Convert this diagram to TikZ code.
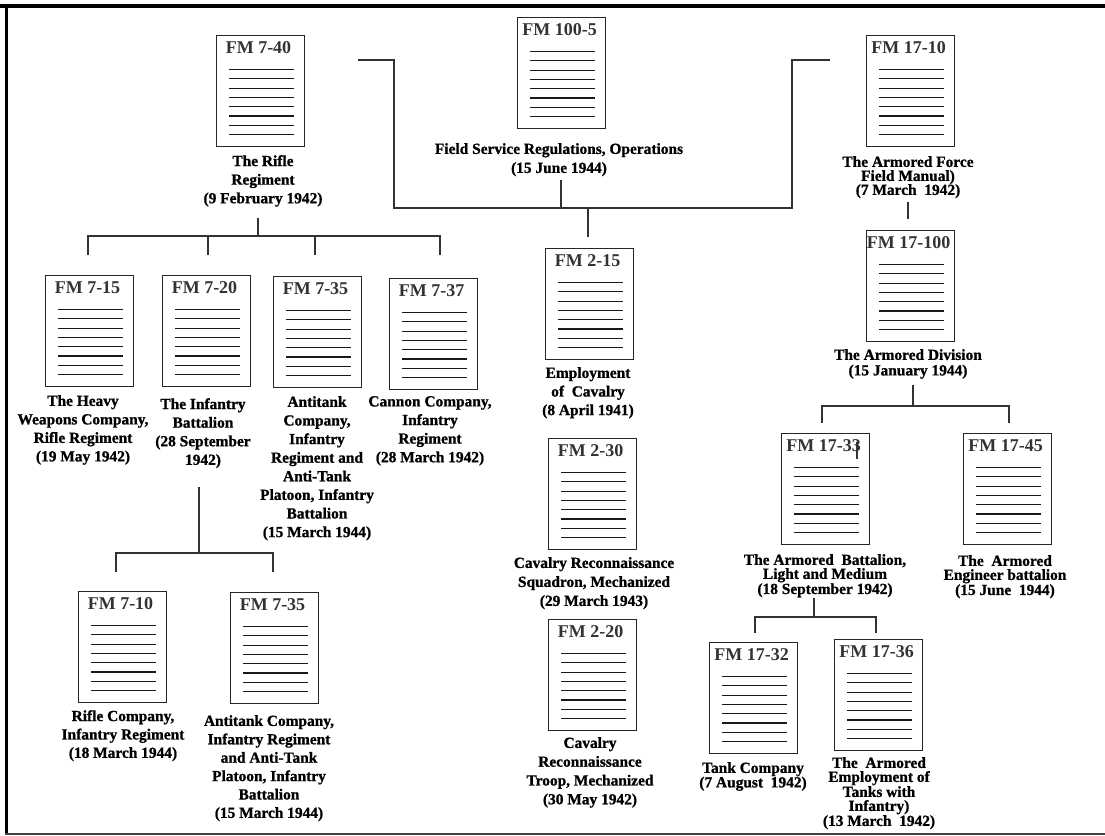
\documentclass[tikz,border=0pt]{standalone}
\usepackage{fontspec}
\setmainfont{Liberation Serif}
\newfontface\lblface{Liberation Serif Bold}[FakeBold=1.0]
\newcommand{\fmdoc}[4]{% name, left, top, title
  \node[docbox] (#1) at (#2+44.5,#3+56) {};
  \node[doctitle] (#1t) at (#2+42.5,#3+12.5) {#4};
  \foreach \k in {0,...,7} {\draw[textline] (#2+13,#3+34.5+\k*9.3) -- (#2+78,#3+34.5+\k*9.3);}
}
\newcommand{\fmlab}[5]{% name, centre x, first line y, baseline, text
  \node[doclabel,font=\lblface\fontsize{15.4}{#4}\selectfont] (#1) at (#2,#3-6) {#5};
}
\tikzset{
  x=1pt,y=-1pt,
  docbox/.style={draw=black!85,line width=1.4pt,fill=white,minimum width=88pt,minimum height=111pt,inner sep=0pt,outer sep=0pt},
  doctitle/.style={inner sep=0pt,font=\bfseries\fontsize{18}{20}\selectfont,text=black!80},
  textline/.style={draw=black!90,line width=1.1pt},
  doclabel/.style={anchor=north,align=center,inner sep=0pt,text=black},
  conn/.style={draw=black!80,line width=1.3pt},
}
\begin{document}
\begin{tikzpicture}
\useasboundingbox (0,0) rectangle (1105,835);
% frame
\fill[black] (0,4) rectangle (1105,8);
\fill[black] (4.5,4) rectangle (8,834);
\fill[black!75] (4.5,833) rectangle (1105,834.5);
% documents
\fmdoc{a}{216}{35}{FM 7-40}
\fmdoc{b}{517}{17}{FM 100-5}
\fmdoc{c}{866}{35}{FM 17-10}
\fmdoc{d}{45}{275}{FM 7-15}
\fmdoc{e}{162}{275}{FM 7-20}
\fmdoc{f}{273}{276}{FM 7-35}
\fmdoc{g}{389}{278}{FM 7-37}
\fmdoc{h}{545}{248}{FM 2-15}
\fmdoc{i}{548}{438}{FM 2-30}
\fmdoc{j}{548}{619}{FM 2-20}
\fmdoc{k}{866}{230}{FM 17-100}
\fmdoc{l}{781}{433}{FM 17-33}
\fmdoc{m}{963}{433}{FM 17-45}
\fmdoc{n}{709}{642}{FM 17-32}
\fmdoc{o}{834}{639}{FM 17-36}
\fmdoc{p}{78}{591}{FM 7-10}
\fmdoc{q}{230}{592}{FM 7-35}
% labels
\fmlab{la}{263}{161}{18.6}{The Rifle\\Regiment\\(9 February 1942)}
\fmlab{lb}{559}{149}{19}{Field Service Regulations, Operations\\(15 June 1944)}
\fmlab{lc}{908}{162}{14}{The Armored Force\\Field Manual)\\(7 March\ \ 1942)}
\fmlab{ld}{83}{401}{18.5}{The Heavy\\Weapons Company,\\Rifle Regiment\\(19 May 1942)}
\fmlab{le}{203}{404}{18.6}{The Infantry\\Battalion\\(28 September\\1942)}
\fmlab{lf}{317}{402}{18.6}{Antitank\\Company,\\Infantry\\Regiment and\\Anti-Tank\\Platoon, Infantry\\Battalion\\(15 March 1944)}
\fmlab{lg}{430}{402}{18.6}{Cannon Company,\\Infantry\\Regiment\\(28 March 1942)}
\fmlab{lh}{588}{373}{18.6}{Employment\\of\ \ Cavalry\\(8 April 1941)}
\fmlab{li}{594}{563}{19}{Cavalry Reconnaissance\\Squadron, Mechanized\\(29 March 1943)}
\fmlab{lj}{590}{743}{18.8}{Cavalry\\Reconnaissance\\Troop, Mechanized\\(30 May 1942)}
\fmlab{lk}{908}{355}{15.5}{The Armored Division\\(15 January 1944)}
\fmlab{ll}{825}{560}{14}{The Armored\ \ Battalion,\\Light and Medium\\(18 September 1942)}
\fmlab{lm}{1005}{561}{14}{The\ \ Armored\\Engineer battalion\\(15 June\ \ 1944)}
\fmlab{ln}{753}{768}{14.5}{Tank Company\\(7 August\ \ 1942)}
\fmlab{lo}{879}{763}{14}{The\ \ Armored\\Employment of\\Tanks with\\Infantry)\\(13 March\ \ 1942)}
\fmlab{lp}{123}{716}{18.4}{Rifle Company,\\Infantry Regiment\\(18 March 1944)}
\fmlab{lq}{269}{721}{18.4}{Antitank Company,\\Infantry Regiment\\and Anti-Tank\\Platoon, Infantry\\Battalion\\(15 March 1944)}
% connector ends
\coordinate (ar) at (358,60);
\coordinate (c1) at (394,208);
\coordinate (c2) at (792,208);
\coordinate (cr) at (830,60);
\coordinate (bs) at (561,180);
\coordinate (bj) at (561,208);
\coordinate (hj) at (588,208);
\coordinate (ht) at (588,237);
\coordinate (as) at (258,218);
\coordinate (aj) at (258,236);
\coordinate (dt) at (88,255);
\coordinate (et) at (208,255);
\coordinate (ft) at (315,255);
\coordinate (gt) at (440,255);
\coordinate (es) at (199,487);
\coordinate (ej) at (199,553);
\coordinate (pt) at (116,572);
\coordinate (qt) at (273,572);
\coordinate (cs) at (908,202);
\coordinate (kt) at (908,219);
\coordinate (ks) at (913,385);
\coordinate (kj) at (913,406);
\coordinate (lt) at (822,423);
\coordinate (mt) at (1009,423);
\coordinate (ls) at (814,598);
\coordinate (lj) at (814,617);
\coordinate (nt) at (755,633);
\coordinate (ot) at (876,633);
\coordinate (tick1) at (857,442);
\coordinate (tick2) at (857,459);
% connectors
\draw[conn] (ar) -| (c1) -- (c2) |- (cr);
\draw[conn] (bs) -- (bj);
\draw[conn] (hj) -- (ht);
\draw[conn] (as) -- (aj);
\draw[conn] (dt) |- (gt |- aj) -- (gt);
\draw[conn] (et |- aj) -- (et);
\draw[conn] (ft |- aj) -- (ft);
\draw[conn] (es) -- (ej);
\draw[conn] (pt) |- (qt |- ej) -- (qt);
\draw[conn] (cs) -- (kt);
\draw[conn] (ks) -- (kj);
\draw[conn] (lt) |- (mt |- kj) -- (mt);
\draw[conn] (ls) -- (lj);
\draw[conn] (nt) |- (ot |- lj) -- (ot);
\draw[conn] (tick1) -- (tick2);
\end{tikzpicture}
\end{document}
